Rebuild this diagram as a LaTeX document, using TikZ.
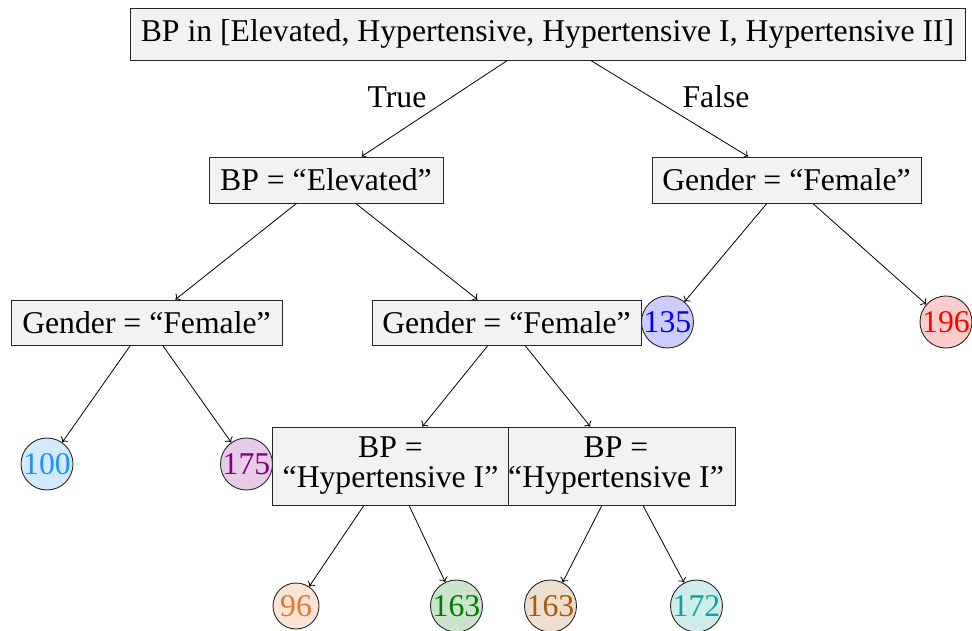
\documentclass[tikz,border=0pt]{standalone}
\usepackage{fontspec}
\usetikzlibrary{arrows.meta}
\setmainfont{Liberation Serif}
\definecolor{cA}{HTML}{1E90FF}
\definecolor{cB}{HTML}{800080}
\definecolor{cC}{HTML}{0000FF}
\definecolor{cD}{HTML}{FF0000}
\definecolor{cE}{HTML}{E0782F}
\definecolor{cF}{HTML}{007A00}
\definecolor{cG}{HTML}{A65A0E}
\definecolor{cH}{HTML}{11A0A0}
\tikzset{
  box/.style={draw=black!85, fill=black!5, line width=0.9pt, inner sep=0pt, align=center},
  leaf/.style={circle, draw=black!85, line width=0.9pt, inner sep=0pt, minimum size=52, text=#1, fill=#1!20},
  edge/.style={-{To[length=4.5pt,width=9pt]}, line width=0.8pt},
  lbl/.style={inner sep=0pt}
}
\begin{document}
\begin{tikzpicture}[x=1pt,y=-1pt, font=\fontsize{31.7}{30}\selectfont]
\useasboundingbox (0,0) rectangle (972,631);
\node[box, minimum width=835, minimum height=52] (root) at (547.5,34) {BP in [Elevated, Hypertensive, Hypertensive I, Hypertensive II]};
\node[box, minimum width=234, minimum height=46] (elev) at (326,180) {BP = “Elevated”};
\node[box, minimum width=269, minimum height=46] (genR) at (786.5,180) {Gender = “Female”};
\node[box, minimum width=271, minimum height=45] (genL) at (146.5,322.5) {Gender = “Female”};
\node[box, minimum width=269, minimum height=45] (genM) at (506.5,322.5) {Gender = “Female”};
\node[box, minimum width=237, minimum height=78] (hypL) at (390.5,466) {BP =\\“Hypertensive I”};
\node[box, minimum width=226, minimum height=78] (hypR) at (622,466) {BP =\hspace*{12pt}\\“Hypertensive I”\hspace*{12pt}};
\node[leaf=cC, minimum size=50] (n135) at (667.5,322) {135};
\node[leaf=cD, minimum size=50] (n196) at (946,322) {196};
\node[leaf=cA] (n100) at (47,464) {100};
\node[leaf=cB] (n175) at (246.5,464) {175};
\node[leaf=cE, minimum size=46] (n96) at (296,606) {96};
\node[leaf=cF] (n163a) at (456.5,606) {163};
\node[leaf=cG] (n163b) at (550.5,606) {163};
\node[leaf=cH] (n172) at (696.5,606) {172};
\node[lbl] (tT) at (397,97) {True};
\node[lbl] (tF) at (716,97) {False};
\draw[edge] (root) -- (elev);
\draw[edge] (root) -- (genR);
\draw[edge] (elev) -- (genL);
\draw[edge] (elev) -- (genM);
\draw[edge] (genR) -- (n135);
\draw[edge] (genR) -- (n196);
\draw[edge] (genL) -- (n100);
\draw[edge] (genL) -- (n175);
\draw[edge] (genM) -- (hypL);
\draw[edge] (genM) -- (hypR);
\draw[edge] (hypL) -- (n96);
\draw[edge] (hypL) -- (n163a);
\draw[edge] (hypR) -- (n163b);
\draw[edge] (hypR) -- (n172);
\end{tikzpicture}
\end{document}
